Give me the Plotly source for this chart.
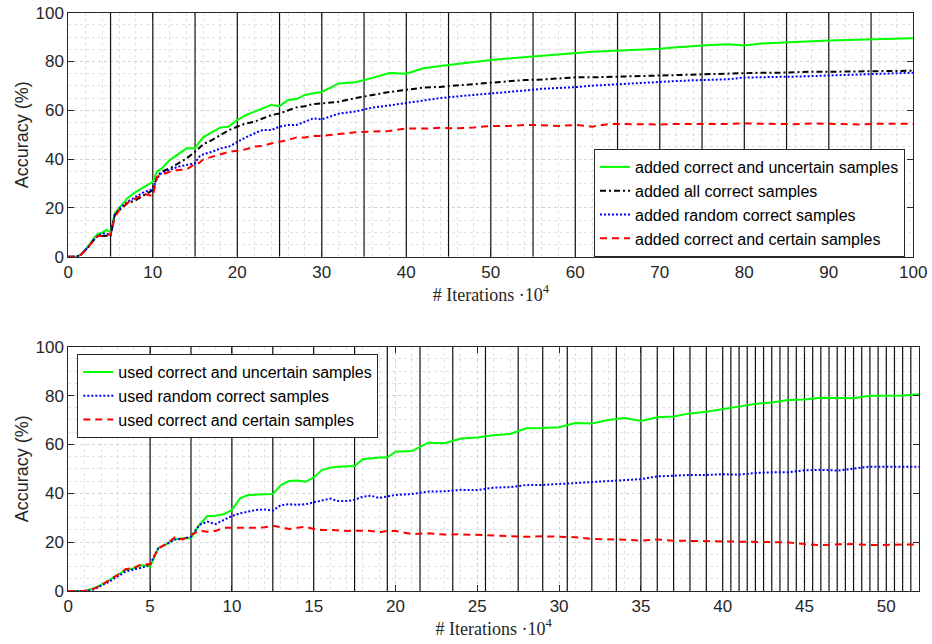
import plotly.graph_objects as go

# ---------------- top chart data ----------------
top_x = [0, 1, 1.5, 2, 2.5, 3, 3.5, 4, 4.5, 5,
         5.5, 6, 7, 8, 9, 10,
         10.5, 11, 12, 13, 14, 15,
         15.5, 16, 17, 18, 19, 20,
         21, 22, 23, 24, 25, 26, 27, 28, 29, 30,
         32, 34, 36, 38, 40, 42, 44, 46, 48, 50, 52, 54, 56, 58, 60, 62, 64, 66,
         68, 70, 72, 74, 76, 78, 80, 82, 84, 86, 88, 90, 92, 94, 96, 98, 100]

top_uncertain = [0, 0, 1, 2.7, 5, 7.5, 9.3, 9.8, 11, 10,
                 17.8, 20, 24, 26.6, 28.7, 30.7,
                 35, 36, 39.6, 42, 44.4, 44.4,
                 47, 49, 51, 53, 53.3, 56,
                 58, 59.4, 60.8, 62.2, 61.7, 64.2, 64.6, 66.3, 67, 67.5,
                 71, 71.5, 73.3, 75.3, 75, 77.2, 78.2, 79.1, 79.9, 80.6, 81.2, 81.8, 82.4, 82.7, 83.5, 84, 84.3, 84.5,
                 84.9, 85.2, 85.8, 86.4, 86.8, 87.1, 86.6, 87.4, 87.6, 88, 88.3, 88.6, 88.8, 88.9, 89, 89.2, 89.5]

top_all = [0, 0, 0.8, 2.5, 4.5, 6.8, 8.5, 8.5, 8.5, 8.7,
           17, 19, 21.9, 23.2, 25.3, 27.3,
           32.8, 34.8, 36.2, 38.3, 40.3, 43,
           44.5, 46.2, 47.8, 49.9, 51.9, 53.3,
           54.6, 55.3, 56.7, 58, 58.7, 60.1, 61.2, 61.7, 62.6, 62.8,
           63.5, 65, 66.3, 67.5, 68.4, 69.3, 69.6, 70.2, 70.8, 71.5, 72, 72.4, 72.6, 73.1, 73.5, 73.5, 73.7, 74.1,
           74.3, 74.5, 74.5, 74.8, 75, 75.1, 75.3, 75.4, 75.4, 75.7, 75.8, 75.8, 75.9, 76.1, 76.1, 76.2, 76.2]

top_random = [0, 0, 0.8, 2.5, 4.5, 6.8, 8.5, 9.5, 9.5, 8.9,
              17, 19.5, 22.5, 24.6, 26.6, 27.6,
              32, 34.2, 35.5, 36.9, 37.6, 38.3,
              41, 42, 43, 44.4, 45.1, 47.1,
              48.9, 50.5, 51.9, 51.9, 53.3, 54, 54, 55.3, 56.7, 56.3,
              58.6, 59.5, 61.1, 62, 63, 64.2, 65, 65.7, 66.3, 66.6, 67.2, 68.1, 68.8, 69.1, 69.5, 70.1, 70.5, 71.1,
              71.4, 71.7, 72, 72.3, 72.5, 72.7, 73.4, 73.4, 73.7, 73.8, 74, 74.2, 74.5, 74.8, 75, 75.2, 75.4]

top_certain = [0, 0, 0.8, 2.5, 4.5, 6.8, 8.5, 8.5, 9, 9,
               16, 19, 22.1, 23.9, 25.7, 24.8,
               32.8, 33.5, 34.8, 35.5, 35.8, 38,
               38.5, 39.9, 41, 42, 43, 43.4,
               44, 45.1, 45.4, 46.4, 47.1, 47.8, 48.9, 48.9, 49.5, 49.5,
               50.3, 51, 51.3, 51.5, 52.6, 52.5, 52.8, 52.6, 53, 53.6, 53.6, 54, 53.9, 53.6, 54, 53.3, 54.4, 54.3,
               54.1, 54.2, 54.4, 54.3, 54.5, 54.4, 54.6, 54.5, 54.7, 54.3, 54.6, 54.5, 54.6, 54.2, 54.5, 54.5, 54.5]

top_events = [5, 10, 15, 20, 25, 30, 35, 40, 45, 50, 55, 60, 65, 70, 75, 80, 85, 90, 95]

# ---------------- bottom chart data ----------------
bot_x = [0, 0.5, 1, 1.5, 2, 2.5, 3, 3.5, 4, 4.5, 5, 5.5, 6, 6.5, 7, 7.5, 8, 8.5, 9, 9.5,
         10, 10.5, 11, 11.5, 12, 12.5, 13, 13.5, 14, 14.5, 15, 15.5, 16, 16.5, 17, 17.5,
         18, 18.5, 19, 19.5, 20,
         21, 22, 23, 24, 25, 26, 27, 28, 29, 30, 31, 32, 33, 34, 35, 36, 37, 38, 39, 40,
         41, 42, 43, 44, 45, 46, 47, 48, 49, 50, 51, 52]

bot_uncertain = [0, 0, 0, 1, 2.5, 4.5, 6.5, 8.6, 9.3, 10.6, 10, 17.5, 19.2, 21.1, 21.6, 21.6, 27, 30.7, 30.8, 31.4,
                 33.2, 37.9, 39.3, 39.6, 39.6, 39.7, 43.4, 45, 45.2, 44.7, 46.5, 49.5, 50.5, 50.9, 50.9, 51.2,
                 53.9, 54.3, 54.6, 54.6, 57,
                 57.3, 60.7, 60.5, 62.4, 62.8, 63.8, 64.3, 66.6, 66.7, 67, 68.8, 68.6, 70, 70.8, 69.6, 71.1, 71.4, 72.7, 73.4, 74.5,
                 75.3, 76.6, 77.2, 78.2, 78.4, 79.1, 79, 78.9, 79.9, 79.9, 80, 80.5]

bot_random = [0, 0, 0, 0.5, 2.2, 3.8, 5.9, 7.9, 8.9, 9.5, 10.9, 17.5, 19.2, 21.1, 21.3, 22.2, 27, 28.4, 27.4, 29,
              30.7, 31.8, 32.5, 33.2, 33.4, 32.9, 35.2, 35.5, 35.3, 35.5, 36.3, 37.2, 37.8, 36.8, 36.8, 37.3,
              38.6, 39, 38.1, 38.7, 39.3,
              39.7, 40.7, 40.8, 41.4, 41.3, 42.3, 42.5, 43.4, 43.4, 43.8, 44.2, 44.7, 45.2, 45.5, 45.8, 46.9, 47.3, 47.5, 47.5, 47.8,
              47.6, 48.3, 48.6, 48.6, 49.4, 49.6, 49.3, 50.2, 50.9, 50.9, 50.8, 50.9]

bot_certain = [0, 0, 0, 0.8, 2.2, 4.5, 6.5, 8.9, 9.5, 11, 10.9, 17.5, 19.2, 22, 21.1, 22.9, 24.7, 24.3, 24.6, 25.9,
               25.9, 25.6, 25.9, 25.9, 26.1, 26.7, 26.1, 25.4, 25.9, 26.3, 25.4, 25, 25, 24.7, 24.6, 24.7,
               24.7, 24.6, 24, 24.6, 24.6,
               23.3, 23.6, 23.1, 23.2, 22.9, 22.6, 22.2, 22.2, 22.4, 22.1, 22, 21.3, 21.2, 21, 20.6, 21.1, 20.6, 20.5, 20.2, 20.2,
               20.2, 19.8, 19.8, 19.9, 19.2, 18.8, 19.1, 19.2, 18.8, 18.8, 18.8, 19.1]

bot_events = [5, 7.5, 10, 12.5, 15, 17.5, 19.5, 21.5, 23.5, 25.5, 27.5, 29, 30.5, 32, 33.5, 35,
              36, 37, 38, 39, 40, 40.5, 41, 41.5, 42, 42.5, 43, 43.5, 44, 44.5, 45, 45.5, 46, 46.5,
              47, 47.5, 48, 48.5, 49, 49.5, 50, 50.5, 51, 51.5]

top_names = ["added correct and uncertain samples", "added all correct samples",
             "added random correct samples", "added correct and certain samples"]
bot_names = ["used correct and uncertain samples", "used random correct samples",
             "used correct and certain samples"]

# ---------------- styles ----------------
GREEN = dict(color="#00ff00", width=2, dash="solid")
BLACK = dict(color="#000000", width=2, dash="6px,3px,2px,3px")
BLUE = dict(color="#0000ff", width=2, dash="2px,2px")
RED = dict(color="#ff0000", width=2, dash="7px,5px")
EVENT = dict(color="#111111", width=1.2)

fig = go.Figure()


def event_trace(events, xa, ya):
    xs, ys = [], []
    for v in events:
        xs += [v, v, None]
        ys += [0, 100, None]
    return go.Scatter(x=xs, y=ys, mode="lines", line=EVENT, showlegend=False,
                      hoverinfo="skip", xaxis=xa, yaxis=ya)


fig.add_trace(event_trace(top_events, "x", "y"))
fig.add_trace(event_trace(bot_events, "x2", "y2"))

for ys, nm, ln in zip([top_uncertain, top_all, top_random, top_certain], top_names,
                      [GREEN, BLACK, BLUE, RED]):
    fig.add_trace(go.Scatter(x=top_x, y=ys, name=nm, mode="lines", line=ln,
                             xaxis="x", yaxis="y", legend="legend"))
for ys, nm, ln in zip([bot_uncertain, bot_random, bot_certain], bot_names,
                      [GREEN, BLUE, RED]):
    fig.add_trace(go.Scatter(x=bot_x, y=ys, name=nm, mode="lines", line=ln,
                             xaxis="x2", yaxis="y2", legend="legend2"))

W, H = 932, 644
TXT = "#262626"
TICKFONT = dict(family="Liberation Sans, Arial", size=17, color=TXT)
GRID = "#d2d2d2"
MGRID = "#e2e2e2"


def xaxis(rng, dtick, minor, dom, anchor):
    return dict(range=rng, domain=dom, anchor=anchor, dtick=dtick, tick0=0,
                automargin=False,
                ticks="inside", ticklen=6, tickcolor=TXT, mirror="ticks",
                showline=True, linecolor=TXT, linewidth=1,
                showgrid=True, gridcolor=GRID, griddash="dot", gridwidth=1,
                minor=dict(dtick=minor, tick0=0, showgrid=True, gridcolor=MGRID, griddash="dot", gridwidth=1),
                tickfont=TICKFONT, zeroline=False,
                title=dict(text="# Iterations ·10<sup>4</sup>", standoff=1,
                           font=dict(family="Liberation Serif, Times New Roman", size=18, color=TXT)))


def yaxis(dom, anchor):
    return dict(range=[0, 100], domain=dom, anchor=anchor, dtick=20, tick0=0,
                automargin=False,
                ticks="inside", ticklen=6, tickcolor=TXT, mirror="ticks",
                showline=True, linecolor=TXT, linewidth=1,
                showgrid=True, gridcolor=GRID, griddash="dot", gridwidth=1,
                minor=dict(dtick=5, tick0=0, showgrid=True, gridcolor=MGRID, griddash="dot", gridwidth=1),
                tickfont=TICKFONT, zeroline=False,
                title=dict(text="Accuracy (%)", standoff=2,
                           font=dict(family="Liberation Sans, Arial", size=18, color=TXT)))


LEGFONT = dict(family="Liberation Sans, Arial", size=16, color="#000000")

fig.update_layout(
    width=W, height=H,
    margin=dict(l=0, r=0, t=0, b=0, autoexpand=False),
    paper_bgcolor="white", plot_bgcolor="white",
    showlegend=True,
    xaxis=xaxis([0, 100], 10, 2, [68.3 / W, 913.3 / W], "y"),
    yaxis=yaxis([1 - 256.7 / H, 1 - 12.7 / H], "x"),
    xaxis2=xaxis([0, 52], 5, 1, [68.3 / W, 919 / W], "y2"),
    yaxis2=yaxis([1 - 591 / H, 1 - 346.7 / H], "x2"),
    legend=dict(x=905 / W, y=1 - 203 / H, xanchor="right", yanchor="middle",
                bgcolor="white", bordercolor="#262626", borderwidth=1,
                font=LEGFONT, tracegroupgap=0, itemwidth=30),
    legend2=dict(x=77.3 / W, y=1 - 354 / H, xanchor="left", yanchor="top",
                 bgcolor="white", bordercolor="#262626", borderwidth=1,
                 font=LEGFONT, tracegroupgap=0, itemwidth=30),
)

fig.write_html("out.html", config={"displayModeBar": False},
               post_script="document.body.style.margin='0';document.body.style.overflow='hidden';")
